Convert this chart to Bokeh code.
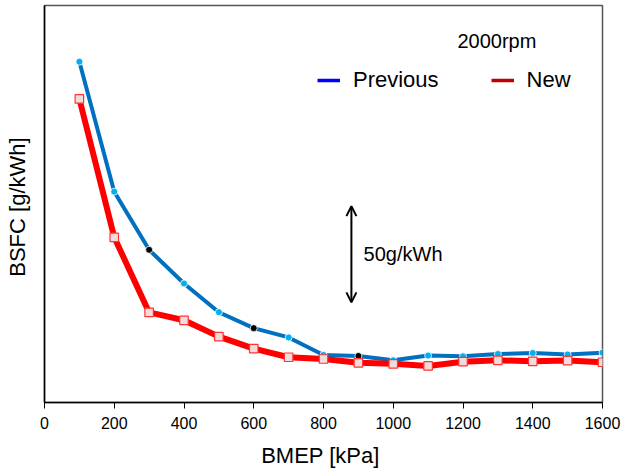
from bokeh.plotting import figure
from bokeh.models import (Legend, LegendItem, Label, Arrow, OpenHead, FixedTicker,
                          ColumnDataSource, Range1d)
from bokeh.embed import file_html
from bokeh.resources import INLINE

# ---- data (BMEP kPa, BSFC g/kWh) ----
bmep = [100, 200, 300, 400, 500, 600, 700, 800, 900, 1000, 1100, 1200, 1300, 1400, 1500, 1600]
bsfc_previous = [387.0, 319.5, 289.3, 271.8, 256.9, 248.6, 243.8, 234.7, 234.2, 231.9,
                 234.4, 234.0, 235.2, 235.7, 234.9, 235.9]
bsfc_new = [367.7, 295.8, 256.8, 252.7, 244.2, 238.0, 233.5, 232.6, 230.6, 230.1,
            229.0, 231.2, 231.9, 231.4, 231.8, 230.9]
x_ticks = [0, 200, 400, 600, 800, 1000, 1200, 1400, 1600]
black_points = [300, 600, 900]

FONT = "Liberation Sans"
NAN = float("nan")

p = figure(width=621, height=470, output_backend="svg", toolbar_location=None,
           x_range=Range1d(0, 1600), y_range=Range1d(210, 416.2),
           min_border_left=44, min_border_right=19, min_border_top=5, min_border_bottom=67)
p.grid.visible = False
p.outline_line_color = "#555555"
p.outline_line_width = 1.5
p.background_fill_color = "white"
p.border_fill_color = "white"

# x axis
p.xaxis.ticker = FixedTicker(ticks=x_ticks)
p.xaxis.minor_tick_line_color = None
p.xaxis.major_tick_in = 0
p.xaxis.major_tick_out = 6
p.xaxis.major_tick_line_color = "black"
p.xaxis.axis_line_color = "black"
p.xaxis.axis_line_width = 1.5
p.xaxis.major_label_text_font = FONT
p.xaxis.major_label_text_font_size = "16px"
p.xaxis.major_label_text_color = "black"
p.xaxis.major_label_standoff = 8
p.xaxis.axis_label = "BMEP  [kPa]"
p.xaxis.axis_label_text_font = FONT
p.xaxis.axis_label_text_font_size = "22px"
p.xaxis.axis_label_text_font_style = "normal"
p.xaxis.axis_label_text_color = "black"
p.xaxis.axis_label_standoff = 11

# y axis (no ticks)
p.yaxis.ticker = FixedTicker(ticks=[])
p.yaxis.minor_tick_line_color = None
p.yaxis.major_tick_out = 0
p.yaxis.major_tick_in = 0
p.yaxis.axis_line_color = "black"
p.yaxis.axis_line_width = 1.5
p.yaxis.axis_label = "BSFC  [g/kWh]"
p.yaxis.axis_label_text_font = FONT
p.yaxis.axis_label_text_font_size = "22px"
p.yaxis.axis_label_text_font_style = "normal"
p.yaxis.axis_label_text_color = "black"
p.yaxis.axis_label_standoff = 15

# series
prev_colors = ["black" if b in black_points else "#00B0F0" for b in bmep]
src_prev = ColumnDataSource(dict(x=bmep, y=bsfc_previous, c=prev_colors))
src_new = ColumnDataSource(dict(x=bmep, y=bsfc_new))

p.line("x", "y", source=src_prev, line_color="#0070C0", line_width=4)
p.scatter("x", "y", source=src_prev, marker="circle", size=7, fill_color="c",
          line_color="white", line_width=0.8)

p.line("x", "y", source=src_new, line_color="#FF0000", line_width=6)
p.scatter("x", "y", source=src_new, marker="square", size=8.5, fill_color="#F2DCDB",
          line_color="#FF3333", line_width=1.2)

# custom legend (plain lines, not drawn in the plot: y is NaN)
lb = p.line(bmep[:2], [NAN, NAN], line_color="#0000FF", line_width=3.5)
lr = p.line(bmep[:2], [NAN, NAN], line_color="#C00000", line_width=3.5)
legend = Legend(items=[LegendItem(label="Previous", renderers=[lb]),
                       LegendItem(label="New", renderers=[lr])],
                orientation="horizontal", location=(273, 309),
                border_line_color=None, background_fill_alpha=0,
                padding=0, margin=0, spacing=52, glyph_width=23, glyph_height=24,
                label_height=24, label_standoff=13,
                label_text_font=FONT, label_text_font_size="22px",
                label_text_color="black")
p.add_layout(legend)

# annotations
p.add_layout(Label(x=1184, y=398, text="2000rpm", text_font=FONT, text_font_size="20px",
                   text_baseline="middle", text_color="black"))
p.add_layout(Arrow(x_start=880, y_start=262, x_end=880, y_end=312, line_width=2,
                   line_color="black",
                   start=OpenHead(size=10, line_width=2, line_color="black"),
                   end=OpenHead(size=10, line_width=2, line_color="black")))
p.add_layout(Label(x=915, y=287, text="50g/kWh", text_font=FONT, text_font_size="20px",
                   text_baseline="middle", text_color="black"))

open("out.html", "w").write(file_html(p, INLINE))
